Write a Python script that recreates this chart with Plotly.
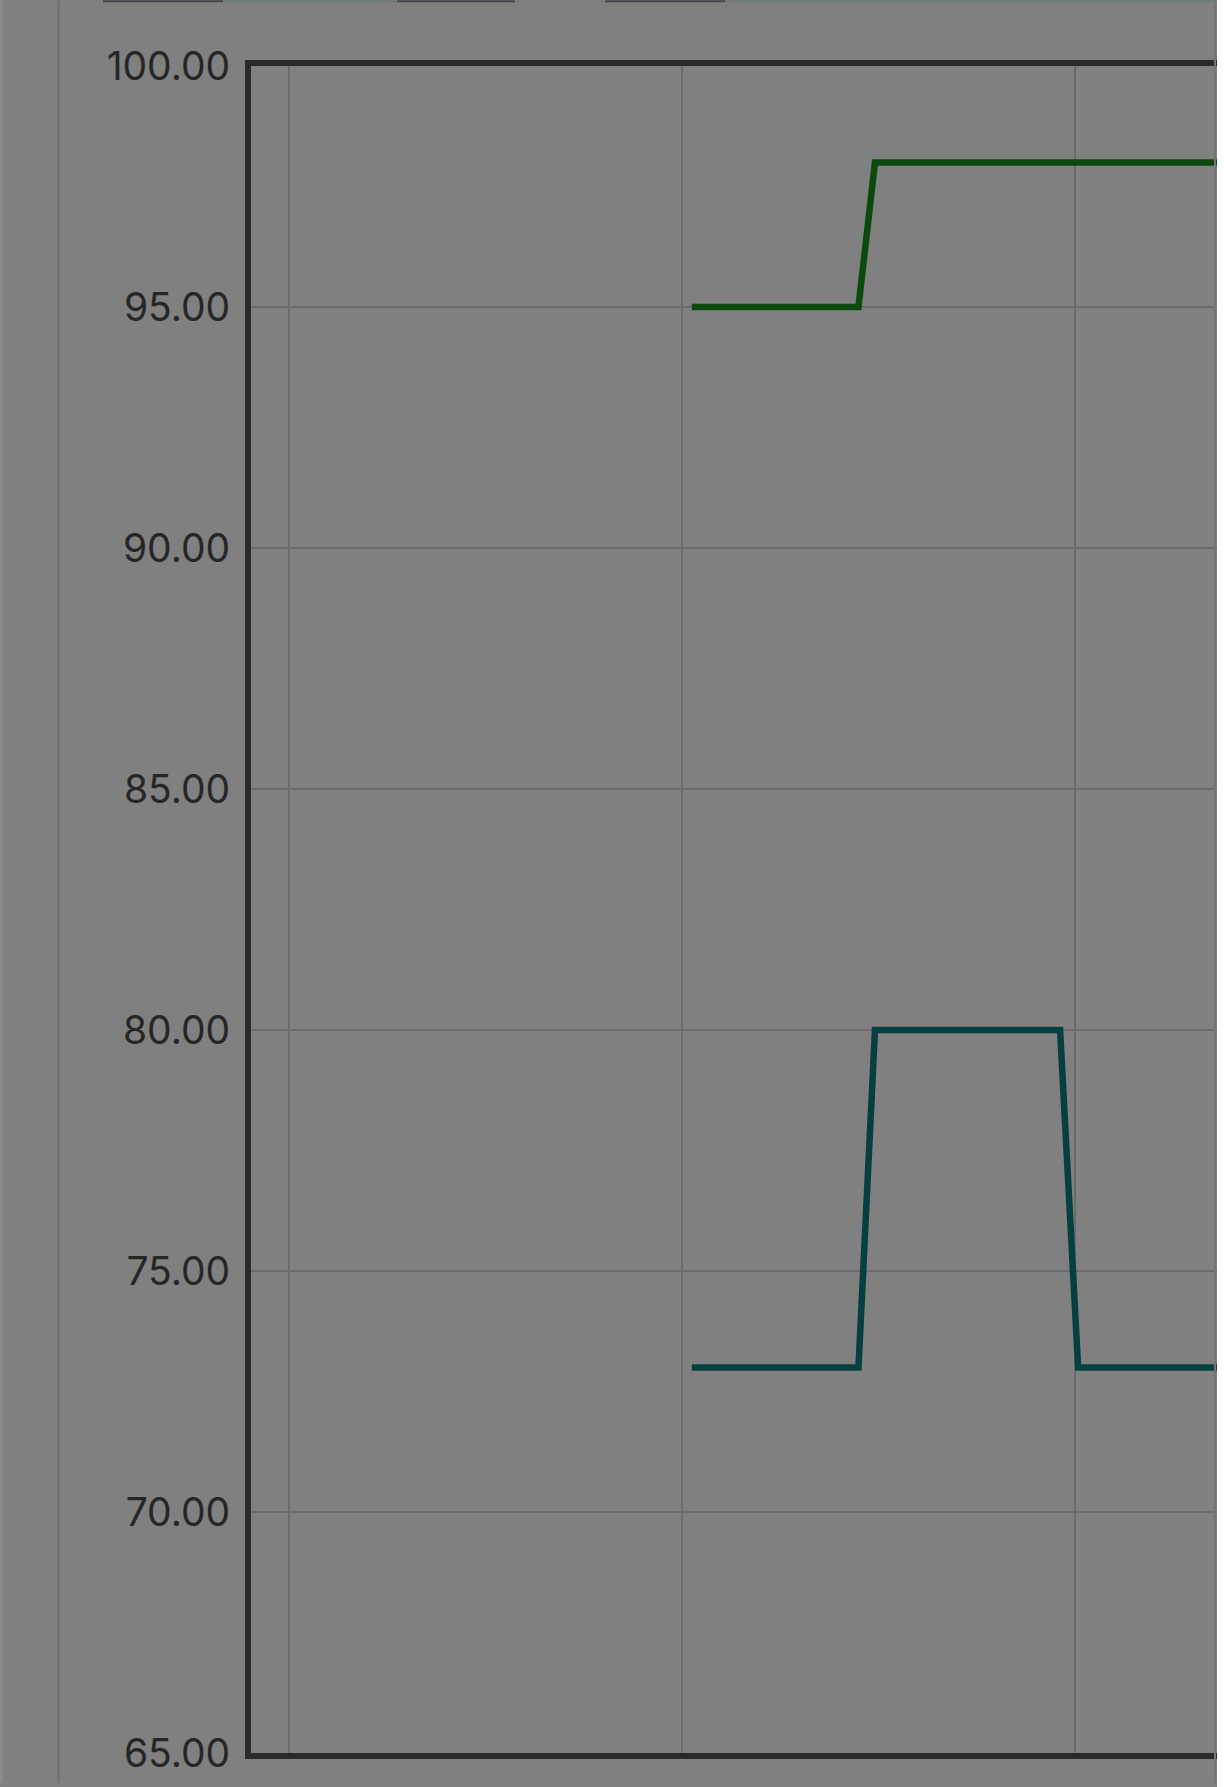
import plotly.graph_objects as go

# ---- data ----
green_x = [1.025, 1.449, 1.491, 2.50]
green_y = [95, 95, 98, 98]
teal_x = [1.025, 1.449, 1.491, 1.962, 2.008, 2.50]
teal_y = [73, 73, 80, 80, 73, 73]
y_ticks = [65, 70, 75, 80, 85, 90, 95, 100]
x_grid = [0, 1, 2]

W, H = 1228, 1787
ML, MR, MT, MB = 251, 11, 66, 30
PW, PH = W - ML - MR, H - MT - MB


def px(x):
    return (x - ML) / PW


def py(y):
    return (H - MB - y) / PH


BG = "#808080"
fig = go.Figure()
fig.add_trace(go.Scatter(x=green_x, y=green_y, mode="lines",
                         line=dict(color="#0b4a0c", width=6.5), hoverinfo="skip"))
fig.add_trace(go.Scatter(x=teal_x, y=teal_y, mode="lines",
                         line=dict(color="#053f3f", width=6.5), hoverinfo="skip"))

shapes = []
# left light strip and outer vertical rule
shapes.append(dict(type="rect", xref="paper", yref="paper", x0=px(0), x1=px(3),
                   y0=py(H), y1=py(0), fillcolor="#8c8c8c", line=dict(width=0), layer="below"))
shapes.append(dict(type="line", xref="paper", yref="paper", x0=px(58.5), x1=px(58.5),
                   y0=py(H), y1=py(0), line=dict(color="#737373", width=3)))
# right white strip
shapes.append(dict(type="rect", xref="paper", yref="paper", x0=px(1217), x1=px(W + 5),
                   y0=py(H + 5), y1=py(-5), fillcolor="#ffffff", line=dict(width=0)))
shapes.append(dict(type="line", xref="paper", yref="paper", x0=px(1215), x1=px(1215),
                   y0=py(H), y1=py(0), line=dict(color="#747474", width=2)))
# cut-off chips at the top edge
for a, b, c in [(103, 223, "#46464f"), (223, 397, "#6f7b72"), (397, 515, "#46464f"),
                (605, 725, "#46464f"), (725, 1215, "#6f7b72")]:
    shapes.append(dict(type="line", xref="paper", yref="paper", x0=px(a), x1=px(b),
                       y0=py(1), y1=py(1), line=dict(color=c, width=2)))

fig.update_layout(
    width=W, height=H,
    margin=dict(l=ML, r=MR, t=MT, b=MB, pad=0),
    paper_bgcolor=BG, plot_bgcolor=BG,
    showlegend=False,
    shapes=shapes,
    font=dict(family="Inter, Roboto, sans-serif", color="#262626", size=39),
    xaxis=dict(range=[(ML - 289) / 393.0, (W - MR - 289) / 393.0],
               tickvals=x_grid, showticklabels=False, ticks="",
               showgrid=True, gridcolor="#6b6b6b", gridwidth=2, zeroline=False,
               showline=True, linecolor="#2a2a2a", linewidth=6, mirror=True),
    yaxis=dict(range=[65, 100], tickvals=y_ticks, tickformat=".2f", ticks="",
               showgrid=True, gridcolor="#6b6b6b", gridwidth=2, zeroline=False,
               showline=True, linecolor="#2a2a2a", linewidth=6, mirror=False,
               ticklabelstandoff=7, tickfont=dict(size=39, color="#262626")),
)

fig.write_html("out.html", config={"displayModeBar": False},
               post_script="document.body.style.margin='0px';document.body.style.overflow='hidden';")
